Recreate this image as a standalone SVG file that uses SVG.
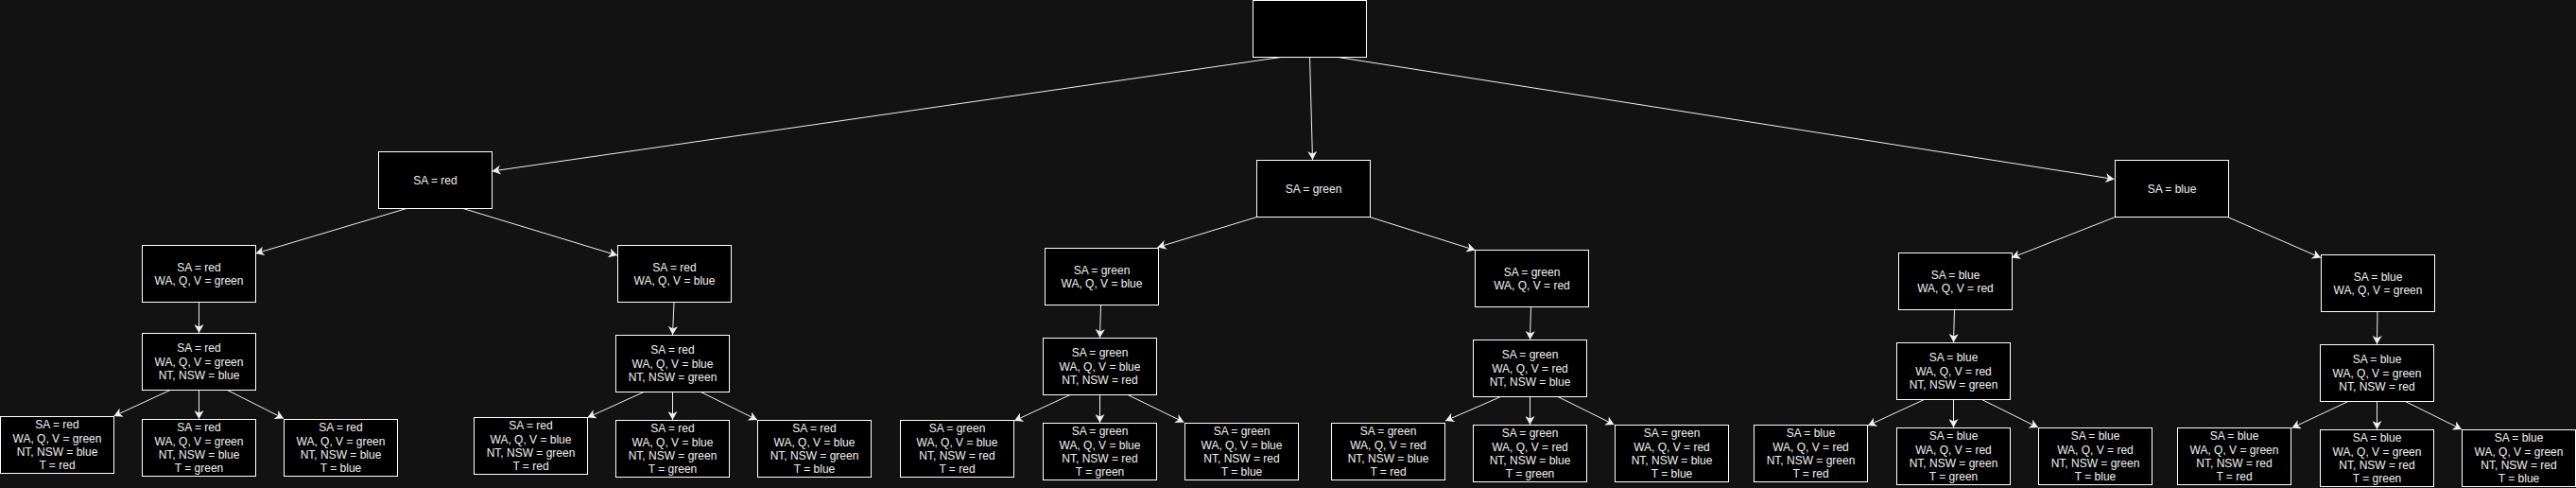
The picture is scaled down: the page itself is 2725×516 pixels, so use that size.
<svg xmlns="http://www.w3.org/2000/svg" width="2725" height="516" viewBox="0 0 2725 516">
<style>
.bg{fill:#121212}
.box{fill:#000000;stroke:#ffffff;stroke-width:1}
.t{font-family:"Liberation Sans",Arial,Helvetica,sans-serif;font-size:12px;fill:#f0f0f0;text-anchor:middle}
.e{fill:none;stroke:#f0f0f0;stroke-width:1;marker-end:url(#arr)}
</style>
<defs>
<marker id="arr" viewBox="0 0 9 10" markerWidth="9" markerHeight="10" refX="9" refY="5" orient="auto" markerUnits="userSpaceOnUse">
<path d="M9,5 L0,0 L2.5,5 L0,10 Z" fill="#f0f0f0"/>
</marker>
</defs>
<rect class="bg" x="0" y="0" width="2725" height="516"/>
<g id="connectors">
<line class="e" x1="1355" y1="60.5" x2="520.5" y2="181"/>
<line class="e" x1="1385.5" y1="60.5" x2="1388.5" y2="169"/>
<line class="e" x1="1415.5" y1="60.5" x2="2236.5" y2="189.5"/>
<line class="e" x1="430" y1="220.5" x2="270.5" y2="268"/>
<line class="e" x1="490" y1="220.5" x2="653" y2="270"/>
<line class="e" x1="210.5" y1="319.5" x2="210.5" y2="352"/>
<line class="e" x1="713" y1="319.5" x2="711.5" y2="354"/>
<line class="e" x1="180" y1="412.5" x2="120.5" y2="440"/>
<line class="e" x1="210.5" y1="412.5" x2="210.5" y2="443"/>
<line class="e" x1="240.5" y1="412.5" x2="300" y2="442.5"/>
<line class="e" x1="681" y1="414.5" x2="621.5" y2="441.5"/>
<line class="e" x1="711.5" y1="414.5" x2="711.5" y2="444"/>
<line class="e" x1="741.5" y1="414.5" x2="801" y2="444"/>
<line class="e" x1="1329.5" y1="229.5" x2="1224.5" y2="261.5"/>
<line class="e" x1="1449" y1="229.5" x2="1560.5" y2="264.5"/>
<line class="e" x1="1164.5" y1="322.5" x2="1163.5" y2="357"/>
<line class="e" x1="1619.5" y1="324.5" x2="1618.5" y2="359"/>
<line class="e" x1="1132" y1="417.5" x2="1073" y2="445"/>
<line class="e" x1="1163.5" y1="417.5" x2="1163.5" y2="447"/>
<line class="e" x1="1193" y1="417.5" x2="1252.5" y2="446.5"/>
<line class="e" x1="1587.5" y1="419.5" x2="1529" y2="445"/>
<line class="e" x1="1618.5" y1="419.5" x2="1618.5" y2="449"/>
<line class="e" x1="1648" y1="419.5" x2="1707.5" y2="449"/>
<line class="e" x1="2237.5" y1="229.5" x2="2128" y2="272.5"/>
<line class="e" x1="2356.5" y1="229.5" x2="2455" y2="272.5"/>
<line class="e" x1="2067.5" y1="327.5" x2="2066.5" y2="362"/>
<line class="e" x1="2515" y1="329.5" x2="2514.5" y2="364"/>
<line class="e" x1="2035.5" y1="422.5" x2="1976" y2="450"/>
<line class="e" x1="2066.5" y1="422.5" x2="2066.5" y2="452"/>
<line class="e" x1="2096.5" y1="422.5" x2="2156" y2="452"/>
<line class="e" x1="2484" y1="424.5" x2="2424.5" y2="452.5"/>
<line class="e" x1="2514.5" y1="424.5" x2="2514.5" y2="454"/>
<line class="e" x1="2544.5" y1="424.5" x2="2604" y2="454"/>
</g>
<g id="root"><rect class="box" x="1325.5" y="0.5" width="120" height="60"/></g>
<g id="sa-red"><rect class="box" x="400.5" y="160.5" width="120" height="60"/><text class="t" x="460.5" y="194.8">SA = red</text></g>
<g id="sa-green"><rect class="box" x="1329.5" y="169.5" width="120" height="60"/><text class="t" x="1389.5" y="203.8">SA = green</text></g>
<g id="sa-blue"><rect class="box" x="2237.5" y="169.5" width="120" height="60"/><text class="t" x="2297.5" y="203.8">SA = blue</text></g>

<g id="r-g"><rect class="box" x="150.5" y="259.5" width="120" height="60"/><text class="t" x="210.5" y="286.6">SA = red<tspan x="210.5" dy="14.4">WA, Q, V = green</tspan></text></g>
<g id="r-b"><rect class="box" x="653.5" y="259.5" width="120" height="60"/><text class="t" x="713.5" y="286.6">SA = red<tspan x="713.5" dy="14.4">WA, Q, V = blue</tspan></text></g>
<g id="g-b"><rect class="box" x="1105.5" y="262.5" width="120" height="60"/><text class="t" x="1165.5" y="289.6">SA = green<tspan x="1165.5" dy="14.4">WA, Q, V = blue</tspan></text></g>
<g id="g-r"><rect class="box" x="1560.5" y="264.5" width="120" height="60"/><text class="t" x="1620.5" y="291.6">SA = green<tspan x="1620.5" dy="14.4">WA, Q, V = red</tspan></text></g>
<g id="b-r"><rect class="box" x="2008.5" y="267.5" width="120" height="60"/><text class="t" x="2068.5" y="294.6">SA = blue<tspan x="2068.5" dy="14.4">WA, Q, V = red</tspan></text></g>
<g id="b-g"><rect class="box" x="2455.5" y="269.5" width="120" height="60"/><text class="t" x="2515.5" y="296.6">SA = blue<tspan x="2515.5" dy="14.4">WA, Q, V = green</tspan></text></g>

<g id="r-g-b"><rect class="box" x="150.5" y="352.5" width="120" height="60"/><text class="t" x="210.5" y="372.4">SA = red<tspan x="210.5" dy="14.4">WA, Q, V = green</tspan><tspan x="210.5" dy="14.4">NT, NSW = blue</tspan></text></g>
<g id="r-b-g"><rect class="box" x="651.5" y="354.5" width="120" height="60"/><text class="t" x="711.5" y="374.4">SA = red<tspan x="711.5" dy="14.4">WA, Q, V = blue</tspan><tspan x="711.5" dy="14.4">NT, NSW = green</tspan></text></g>
<g id="g-b-r"><rect class="box" x="1103.5" y="357.5" width="120" height="60"/><text class="t" x="1163.5" y="377.4">SA = green<tspan x="1163.5" dy="14.4">WA, Q, V = blue</tspan><tspan x="1163.5" dy="14.4">NT, NSW = red</tspan></text></g>
<g id="g-r-b"><rect class="box" x="1558.5" y="359.5" width="120" height="60"/><text class="t" x="1618.5" y="379.4">SA = green<tspan x="1618.5" dy="14.4">WA, Q, V = red</tspan><tspan x="1618.5" dy="14.4">NT, NSW = blue</tspan></text></g>
<g id="b-r-g"><rect class="box" x="2006.5" y="362.5" width="120" height="60"/><text class="t" x="2066.5" y="382.4">SA = blue<tspan x="2066.5" dy="14.4">WA, Q, V = red</tspan><tspan x="2066.5" dy="14.4">NT, NSW = green</tspan></text></g>
<g id="b-g-r"><rect class="box" x="2454.5" y="364.5" width="120" height="60"/><text class="t" x="2514.5" y="384.4">SA = blue<tspan x="2514.5" dy="14.4">WA, Q, V = green</tspan><tspan x="2514.5" dy="14.4">NT, NSW = red</tspan></text></g>

<g id="r-g-b-r"><rect class="box" x="0.5" y="440.5" width="120" height="60"/><text class="t" x="60.5" y="453.2">SA = red<tspan x="60.5" dy="14.4">WA, Q, V = green</tspan><tspan x="60.5" dy="14.4">NT, NSW = blue</tspan><tspan x="60.5" dy="14.4">T = red</tspan></text></g>
<g id="r-g-b-g"><rect class="box" x="150.5" y="443.5" width="120" height="60"/><text class="t" x="210.5" y="456.2">SA = red<tspan x="210.5" dy="14.4">WA, Q, V = green</tspan><tspan x="210.5" dy="14.4">NT, NSW = blue</tspan><tspan x="210.5" dy="14.4">T = green</tspan></text></g>
<g id="r-g-b-b"><rect class="box" x="300.5" y="443.5" width="120" height="60"/><text class="t" x="360.5" y="456.2">SA = red<tspan x="360.5" dy="14.4">WA, Q, V = green</tspan><tspan x="360.5" dy="14.4">NT, NSW = blue</tspan><tspan x="360.5" dy="14.4">T = blue</tspan></text></g>

<g id="r-b-g-r"><rect class="box" x="501.5" y="441.5" width="120" height="60"/><text class="t" x="561.5" y="454.2">SA = red<tspan x="561.5" dy="14.4">WA, Q, V = blue</tspan><tspan x="561.5" dy="14.4">NT, NSW = green</tspan><tspan x="561.5" dy="14.4">T = red</tspan></text></g>
<g id="r-b-g-g"><rect class="box" x="651.5" y="444.5" width="120" height="60"/><text class="t" x="711.5" y="457.2">SA = red<tspan x="711.5" dy="14.4">WA, Q, V = blue</tspan><tspan x="711.5" dy="14.4">NT, NSW = green</tspan><tspan x="711.5" dy="14.4">T = green</tspan></text></g>
<g id="r-b-g-b"><rect class="box" x="801.5" y="444.5" width="120" height="60"/><text class="t" x="861.5" y="457.2">SA = red<tspan x="861.5" dy="14.4">WA, Q, V = blue</tspan><tspan x="861.5" dy="14.4">NT, NSW = green</tspan><tspan x="861.5" dy="14.4">T = blue</tspan></text></g>

<g id="g-b-r-r"><rect class="box" x="952.5" y="444.5" width="120" height="60"/><text class="t" x="1012.5" y="457.2">SA = green<tspan x="1012.5" dy="14.4">WA, Q, V = blue</tspan><tspan x="1012.5" dy="14.4">NT, NSW = red</tspan><tspan x="1012.5" dy="14.4">T = red</tspan></text></g>
<g id="g-b-r-g"><rect class="box" x="1103.5" y="447.5" width="120" height="60"/><text class="t" x="1163.5" y="460.2">SA = green<tspan x="1163.5" dy="14.4">WA, Q, V = blue</tspan><tspan x="1163.5" dy="14.4">NT, NSW = red</tspan><tspan x="1163.5" dy="14.4">T = green</tspan></text></g>
<g id="g-b-r-b"><rect class="box" x="1253.5" y="447.5" width="120" height="60"/><text class="t" x="1313.5" y="460.2">SA = green<tspan x="1313.5" dy="14.4">WA, Q, V = blue</tspan><tspan x="1313.5" dy="14.4">NT, NSW = red</tspan><tspan x="1313.5" dy="14.4">T = blue</tspan></text></g>

<g id="g-r-b-r"><rect class="box" x="1408.5" y="447.5" width="120" height="60"/><text class="t" x="1468.5" y="460.2">SA = green<tspan x="1468.5" dy="14.4">WA, Q, V = red</tspan><tspan x="1468.5" dy="14.4">NT, NSW = blue</tspan><tspan x="1468.5" dy="14.4">T = red</tspan></text></g>
<g id="g-r-b-g"><rect class="box" x="1558.5" y="449.5" width="120" height="60"/><text class="t" x="1618.5" y="462.2">SA = green<tspan x="1618.5" dy="14.4">WA, Q, V = red</tspan><tspan x="1618.5" dy="14.4">NT, NSW = blue</tspan><tspan x="1618.5" dy="14.4">T = green</tspan></text></g>
<g id="g-r-b-b"><rect class="box" x="1708.5" y="449.5" width="120" height="60"/><text class="t" x="1768.5" y="462.2">SA = green<tspan x="1768.5" dy="14.4">WA, Q, V = red</tspan><tspan x="1768.5" dy="14.4">NT, NSW = blue</tspan><tspan x="1768.5" dy="14.4">T = blue</tspan></text></g>

<g id="b-r-g-r"><rect class="box" x="1855.5" y="449.5" width="120" height="60"/><text class="t" x="1915.5" y="462.2">SA = blue<tspan x="1915.5" dy="14.4">WA, Q, V = red</tspan><tspan x="1915.5" dy="14.4">NT, NSW = green</tspan><tspan x="1915.5" dy="14.4">T = red</tspan></text></g>
<g id="b-r-g-g"><rect class="box" x="2006.5" y="452.5" width="120" height="60"/><text class="t" x="2066.5" y="465.2">SA = blue<tspan x="2066.5" dy="14.4">WA, Q, V = red</tspan><tspan x="2066.5" dy="14.4">NT, NSW = green</tspan><tspan x="2066.5" dy="14.4">T = green</tspan></text></g>
<g id="b-r-g-b"><rect class="box" x="2156.5" y="452.5" width="120" height="60"/><text class="t" x="2216.5" y="465.2">SA = blue<tspan x="2216.5" dy="14.4">WA, Q, V = red</tspan><tspan x="2216.5" dy="14.4">NT, NSW = green</tspan><tspan x="2216.5" dy="14.4">T = blue</tspan></text></g>

<g id="b-g-r-r"><rect class="box" x="2303.5" y="452.5" width="120" height="60"/><text class="t" x="2363.5" y="465.2">SA = blue<tspan x="2363.5" dy="14.4">WA, Q, V = green</tspan><tspan x="2363.5" dy="14.4">NT, NSW = red</tspan><tspan x="2363.5" dy="14.4">T = red</tspan></text></g>
<g id="b-g-r-g"><rect class="box" x="2454.5" y="454.5" width="120" height="60"/><text class="t" x="2514.5" y="467.2">SA = blue<tspan x="2514.5" dy="14.4">WA, Q, V = green</tspan><tspan x="2514.5" dy="14.4">NT, NSW = red</tspan><tspan x="2514.5" dy="14.4">T = green</tspan></text></g>
<g id="b-g-r-b"><rect class="box" x="2604.5" y="454.5" width="120" height="60"/><text class="t" x="2664.5" y="467.2">SA = blue<tspan x="2664.5" dy="14.4">WA, Q, V = green</tspan><tspan x="2664.5" dy="14.4">NT, NSW = red</tspan><tspan x="2664.5" dy="14.4">T = blue</tspan></text></g>
</svg>
